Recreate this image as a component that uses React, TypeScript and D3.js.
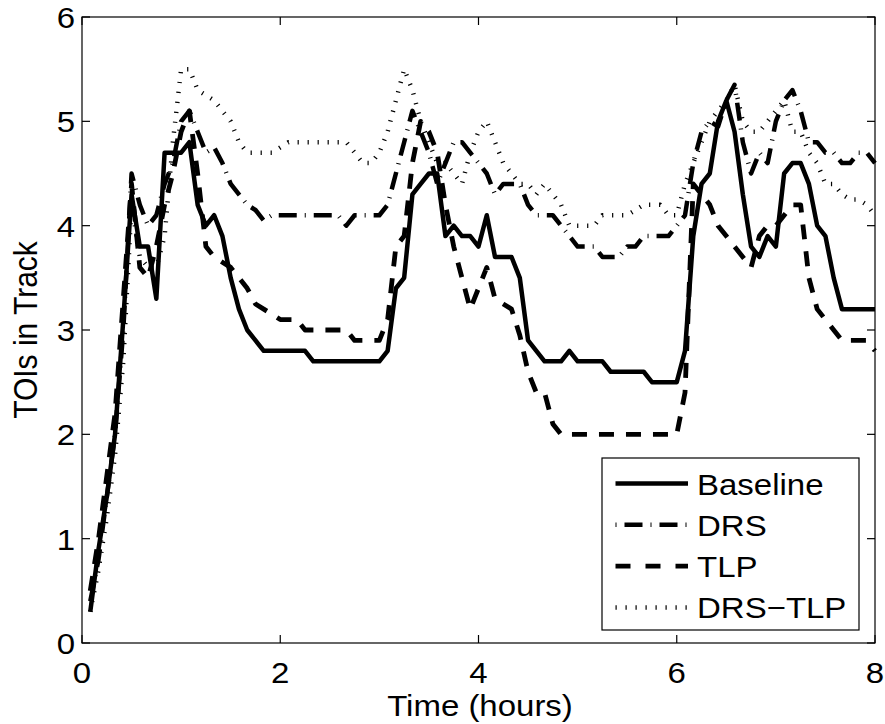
import React from 'react';
import * as d3 from 'd3';

// sampling every 5 minutes, shown in hours
const minutes = d3.range(5, 481, 5);

const baseline = [
  0.3, 0.9, 1.4, 2.0, 3.1, 4.3, 3.8, 3.8, 3.3, 4.7, 4.7, 4.7,
  4.8, 4.2, 4.0, 4.1, 3.9, 3.5, 3.2, 3.0, 2.9, 2.8, 2.8, 2.8,
  2.8, 2.8, 2.8, 2.7, 2.7, 2.7, 2.7, 2.7, 2.7, 2.7, 2.7, 2.7,
  2.8, 3.4, 3.5, 4.3, 4.4, 4.5, 4.5, 3.9, 4.0, 3.9, 3.9, 3.8,
  4.1, 3.7, 3.7, 3.7, 3.5, 2.9, 2.8, 2.7, 2.7, 2.7, 2.8, 2.7,
  2.7, 2.7, 2.7, 2.6, 2.6, 2.6, 2.6, 2.6, 2.5, 2.5, 2.5, 2.5,
  2.8, 3.9, 4.4, 4.5, 5.0, 5.2, 4.9, 4.3, 3.8, 3.7, 3.9, 3.8,
  4.5, 4.6, 4.6, 4.4, 4.0, 3.9, 3.5, 3.2, 3.2, 3.2, 3.2, 3.2,
];

const drs = [
  0.4, 0.8, 1.4, 2.0, 3.0, 4.5, 4.2, 4.0, 4.1, 4.4, 4.6, 5.0,
  5.1, 4.9, 4.7, 4.75, 4.6, 4.4, 4.3, 4.2, 4.15, 4.05, 4.1, 4.1,
  4.1, 4.1, 4.1, 4.1, 4.1, 4.1, 4.1, 4.0, 4.1, 4.1, 4.1, 4.1,
  4.2, 4.5, 4.8, 5.1, 4.9, 4.7, 4.4, 4.6, 4.8, 4.8, 4.7, 4.6,
  4.5, 4.3, 4.4, 4.4, 4.4, 4.2, 4.1, 4.1, 4.1, 4.0, 3.9, 3.8,
  3.8, 3.8, 3.7, 3.7, 3.7, 3.8, 3.8, 3.9, 3.9, 3.9, 3.9, 4.0,
  4.1, 4.6, 4.9, 5.0, 4.95, 5.2, 5.35, 4.8, 4.5, 4.7, 4.6, 5.0,
  5.2, 5.3, 5.1, 4.8, 4.8, 4.7, 4.7, 4.6, 4.6, 4.7, 4.7, 4.6,
];

const tlp = [
  0.5, 1.0, 1.6, 2.2, 3.3, 4.4, 3.6, 3.5, 3.8, 4.2, 4.5, 4.9,
  5.1, 4.5, 3.8, 3.7, 3.65, 3.6, 3.5, 3.4, 3.25, 3.2, 3.15, 3.1,
  3.1, 3.1, 3.0, 3.0, 3.0, 3.0, 3.0, 3.0, 2.9, 2.9, 2.9, 2.9,
  3.1, 3.8, 3.9, 4.6, 5.0, 4.9, 4.7, 4.2, 3.8, 3.5, 3.2, 3.4,
  3.6, 3.3, 3.25, 3.2, 2.95, 2.6, 2.4, 2.4, 2.1, 2.0, 2.0, 2.0,
  2.0, 2.0, 2.0, 2.0, 2.0, 2.0, 2.0, 2.0, 2.0, 2.0, 2.0, 2.0,
  2.4, 4.4, 4.3, 4.2, 4.0, 3.9, 3.8, 3.7, 3.6, 3.9, 4.0, 4.0,
  4.1, 4.2, 4.2, 3.5, 3.2, 3.1, 3.0, 2.9, 2.9, 2.9, 2.9, 2.8,
];

const drsTlp = [
  0.3, 0.7, 1.2, 1.8, 2.7, 4.2, 3.7, 3.6, 3.6, 3.9, 4.8, 5.5,
  5.5, 5.3, 5.25, 5.2, 5.1, 5.0, 4.8, 4.7, 4.7, 4.7, 4.7, 4.75,
  4.8, 4.8, 4.8, 4.8, 4.8, 4.8, 4.8, 4.8, 4.7, 4.6, 4.6, 4.7,
  4.9, 5.2, 5.5, 5.3, 5.0, 4.8, 4.6, 4.6, 4.5, 4.4, 4.7, 4.9,
  5.0, 4.8, 4.6, 4.5, 4.4, 4.4, 4.3, 4.4, 4.3, 4.2, 4.0, 4.0,
  4.0, 4.0, 4.1, 4.1, 4.1, 4.1, 4.15, 4.2, 4.2, 4.2, 4.1, 4.1,
  4.4, 4.6, 4.8, 5.0, 5.1, 5.2, 5.35, 5.0, 4.9, 4.9, 5.0, 5.1,
  5.2, 4.9, 4.9, 4.7, 4.6, 4.4, 4.4, 4.3, 4.25, 4.25, 4.2, 4.1,
];

const seriesNames = ['Baseline', 'DRS', 'TLP', 'DRS\u2212TLP'];
const xTicks = [0, 2, 4, 6, 8];
const yTicks = [0, 1, 2, 3, 4, 5, 6];

const styles = [
  { width: 4.5, dash: 'none', legendDash: 'none' },
  { width: 4.5, dash: '18 8 1 8', legendDash: '1 8 18 8' },
  { width: 4.8, dash: '15 12', legendDash: '15 15' },
  { width: 4.5, dash: '1.2 8.8', legendDash: '1.2 8.8' },
];

const FONT = '"Liberation Sans", Arial, Helvetica, sans-serif';

export default function App() {
  const left = 82, right = 875, top = 17, bottom = 643;
  const x = d3.scaleLinear().domain([0, 8]).range([left, right]);
  const y = d3.scaleLinear().domain([0, 6]).range([bottom, top]);

  const line = d3.line<number>()
    .x((_, i) => x(minutes[i] / 60))
    .y(d => y(d));

  const allSeries = [baseline, drs, tlp, drsTlp];
  const tickLen = 8;

  const legend = { x: 602, y: 458, w: 257, h: 172 };
  const rowY = (i: number) => 483.5 + i * 41.3;

  const label = (tx: number, ty: number, s: string, anchor: string, key?: string | number) => (
    <text key={key} transform={`translate(${tx},${ty}) scale(1.1,1)`} textAnchor={anchor}
      fontFamily={FONT} fontSize={30} fill="#000">{s}</text>
  );

  return (
    <svg width={885} height={724} style={{ position: 'absolute', left: 0, top: 0, background: '#fff' }}>
      <rect x={0} y={0} width={885} height={724} fill="#fff" />

      {allSeries.map((s, i) => (
        <path key={i} d={line(s) || ''} fill="none" stroke="#000"
          strokeWidth={styles[i].width} strokeDasharray={styles[i].dash}
          strokeLinejoin="round" strokeLinecap="butt" />
      ))}

      {/* axes box */}
      <rect x={left} y={top} width={right - left} height={bottom - top} fill="none" stroke="#000" strokeWidth={1.2} />
      {xTicks.map(t => (
        <g key={'x' + t}>
          <line x1={x(t)} x2={x(t)} y1={bottom} y2={bottom - tickLen} stroke="#000" strokeWidth={1.2} />
          <line x1={x(t)} x2={x(t)} y1={top} y2={top + tickLen} stroke="#000" strokeWidth={1.2} />
          {label(x(t), 683, String(t), 'middle')}
        </g>
      ))}
      {yTicks.map(t => (
        <g key={'y' + t}>
          <line x1={left} x2={left + tickLen} y1={y(t)} y2={y(t)} stroke="#000" strokeWidth={1.2} />
          <line x1={right} x2={right - tickLen} y1={y(t)} y2={y(t)} stroke="#000" strokeWidth={1.2} />
          {label(75, y(t) + 11, String(t), 'end')}
        </g>
      ))}

      {label(480, 716, 'Time (hours)', 'middle')}
      <text transform={`translate(37,${(top + bottom) / 2}) rotate(-90) scale(1,1.1)`} textAnchor="middle"
        fontFamily={FONT} fontSize={30} fill="#000">TOIs in Track</text>

      {/* legend */}
      <rect x={legend.x} y={legend.y} width={legend.w} height={legend.h} fill="#fff" stroke="#000" strokeWidth={1.2} />
      {seriesNames.map((name, i) => (
        <g key={name}>
          <line x1={615.5} x2={688} y1={rowY(i)} y2={rowY(i)} stroke="#000"
            strokeWidth={styles[i].width} strokeDasharray={styles[i].legendDash} />
          {label(697, rowY(i) + 11, name, 'start')}
        </g>
      ))}
    </svg>
  );
}
